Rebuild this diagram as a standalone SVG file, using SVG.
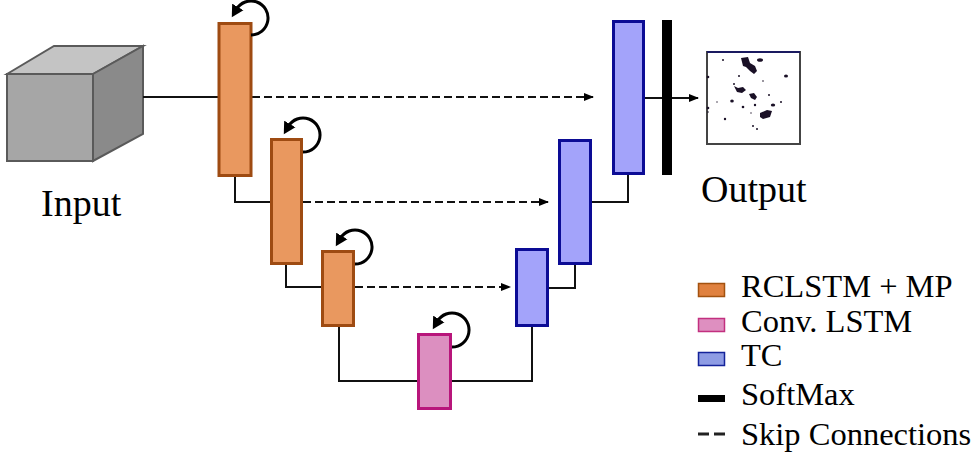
<svg xmlns="http://www.w3.org/2000/svg" width="977" height="462" viewBox="0 0 977 462">
<defs>
<style>
.orange{fill:#E9985F;stroke:#9E4B12;stroke-width:3}
.pink{fill:#DC8FC0;stroke:#B8157B;stroke-width:3}
.blue{fill:#A3A3FA;stroke:#0C0C95;stroke-width:3}
.conn{fill:none;stroke:#111;stroke-width:2}
.skip{fill:none;stroke:#111;stroke-width:2;stroke-dasharray:8 4}
.loop{fill:none;stroke:#000;stroke-width:3}
.lbl{font-family:"Liberation Serif","Times New Roman",serif;fill:#000}
.blob{fill:#1a1026}
</style>
<marker id="ah" markerUnits="userSpaceOnUse" markerWidth="10" markerHeight="10" refX="9" refY="5" orient="auto">
<path d="M0,1 L10,5 L0,9 z" fill="#000"/>
</marker>
<marker id="lh" markerUnits="userSpaceOnUse" markerWidth="14" markerHeight="14" refX="3" refY="7" orient="auto">
<path d="M0,0.5 L12,7 L0,13.5 z" fill="#000"/>
</marker>
</defs>

<g id="input">
<polygon points="7,74 54,46 143,46 93,74" fill="#C4C4C4" stroke="#5A5A5A" stroke-width="2"/>
<polygon points="93,74 143,46 143,134 93,161" fill="#8A8A8A" stroke="#5A5A5A" stroke-width="2"/>
<rect x="7" y="74" width="86" height="87" fill="#A6A6A6" stroke="#5A5A5A" stroke-width="2"/>
<text class="lbl" x="41" y="216" font-size="38">Input</text>
</g>

<g id="connectors">
<path class="conn" d="M143 97 H219"/>
<path class="skip" d="M252 97 H593" marker-end="url(#ah)"/>
<path class="conn" d="M235 177 V202 H270"/>
<path class="skip" d="M303 202 H548" marker-end="url(#ah)"/>
<path class="conn" d="M286 265 V287 H321"/>
<path class="skip" d="M355 287 H510" marker-end="url(#ah)"/>
<path class="conn" d="M339 327 V381 H417"/>
<path class="conn" d="M452 381 H532 V327"/>
<path class="conn" d="M549 288 H575 V265"/>
<path class="conn" d="M592 202 H628 V175"/>
<path class="conn" d="M645 98 H698" marker-end="url(#ah)"/>
</g>

<g id="rclstm1">
<rect class="orange" x="219" y="23.5" width="32" height="152"/>
<path class="loop" d="M251 35 A17 17 0 1 0 236.3 9.5" marker-end="url(#lh)"/>
</g>
<g id="rclstm2">
<rect class="orange" x="271.5" y="139.5" width="30" height="124"/>
<path class="loop" d="M303 152 A17 17 0 1 0 288.3 126.5" marker-end="url(#lh)"/>
</g>
<g id="rclstm3">
<rect class="orange" x="322.5" y="251.5" width="31" height="74"/>
<path class="loop" d="M355 264 A17 17 0 1 0 340.3 238.5" marker-end="url(#lh)"/>
</g>
<g id="convlstm">
<rect class="pink" x="418.5" y="334.5" width="32" height="74"/>
<path class="loop" d="M452 347 A17 17 0 1 0 437.3 321.5" marker-end="url(#lh)"/>
</g>
<g id="tc1">
<rect class="blue" x="516.5" y="249.5" width="31" height="76"/>
</g>
<g id="tc2">
<rect class="blue" x="559.5" y="140.5" width="31" height="123"/>
</g>
<g id="tc3">
<rect class="blue" x="613.5" y="21.5" width="30" height="152"/>
</g>
<g id="softmax">
<rect x="662" y="20" width="10" height="155" fill="#000"/>
</g>

<g id="output">
<rect x="707" y="52" width="93" height="92" fill="#fff" stroke="#444" stroke-width="2"/>
<line x1="707" y1="52" x2="800" y2="52" stroke="#1a1a60" stroke-width="2"/>
<path class="blob" d="M741 58 L748 57 L750 63 L755 66 L757 71 L754 74 L750 71 L746 67 L743 66 Z"/>
<ellipse class="blob" cx="760" cy="60" rx="3" ry="1.8"/>
<circle class="blob" cx="723" cy="60" r="1"/>
<ellipse class="blob" cx="786" cy="76" rx="2" ry="1.5"/>
<circle class="blob" cx="708" cy="77" r="1.3"/>
<circle class="blob" cx="739" cy="76" r="1"/>
<circle class="blob" cx="763" cy="81" r="0.8"/>
<path class="blob" d="M734 86 L738 88 L743 87 L746 90 L742 93 L737 92 Z"/>
<circle class="blob" cx="734" cy="84" r="1"/>
<path class="blob" d="M749 94 L754 93 L757 97 L755 100 L751 98 Z"/>
<circle class="blob" cx="769" cy="95" r="1"/>
<ellipse class="blob" cx="732" cy="101" rx="1.8" ry="1.5"/>
<circle class="blob" cx="755" cy="105" r="1.2"/>
<circle class="blob" cx="743" cy="107" r="1.3"/>
<ellipse class="blob" cx="773" cy="105" rx="2.2" ry="1.6"/>
<circle class="blob" cx="781" cy="102" r="1"/>
<circle class="blob" cx="708" cy="108" r="1.3"/>
<circle class="blob" cx="708" cy="112" r="0.8"/>
<circle class="blob" cx="717" cy="102" r="0.7"/>
<path class="blob" d="M760 113 L767 110 L772 111 L770 117 L763 119 L760 117 Z"/>
<circle class="blob" cx="751" cy="113" r="0.7"/>
<circle class="blob" cx="725" cy="119" r="1.2"/>
<circle class="blob" cx="753" cy="126" r="1"/>
<circle class="blob" cx="757" cy="129" r="1"/>
<text class="lbl" x="701" y="202" font-size="38">Output</text>
</g>

<g id="legend">
<rect x="698.5" y="283.5" width="26" height="13" fill="#E0813F" stroke="#A3520F" stroke-width="1.5"/>
<rect x="698.5" y="318.5" width="26" height="13" fill="#DE8FC0" stroke="#C2307F" stroke-width="1.5"/>
<rect x="698.5" y="352.5" width="26" height="13" fill="#8E9CE4" stroke="#14239A" stroke-width="1.5"/>
<rect x="698" y="395" width="27" height="7" fill="#000"/>
<path d="M698 434 H709 M714 434 H725" stroke="#222" stroke-width="3"/>
<text class="lbl" x="741" y="297" font-size="32.5">RCLSTM + MP</text>
<text class="lbl" x="741" y="332" font-size="32.5">Conv. LSTM</text>
<text class="lbl" x="741" y="366" font-size="32.5">TC</text>
<text class="lbl" x="741" y="405" font-size="32.5">SoftMax</text>
<text class="lbl" x="741" y="445" font-size="32.5">Skip Connections</text>
</g>
</svg>
